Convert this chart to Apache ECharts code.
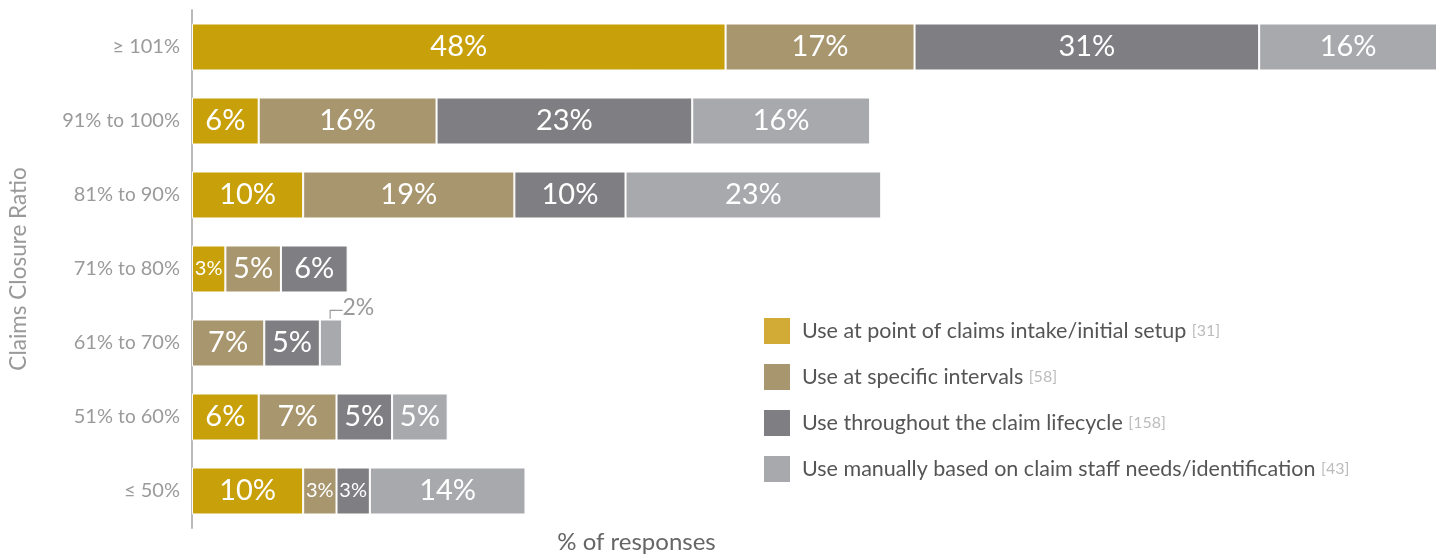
<!DOCTYPE html>
<html>
<head>
<meta charset="utf-8">
<title>Claims Closure Ratio</title>
<script src="https://cdn.jsdelivr.net/npm/echarts@6/dist/echarts.min.js"></script>
<style>
  html, body { margin: 0; padding: 0; background: #fff; }
  #chart { width: 1444px; height: 556px; }
</style>
</head>
<body>
<div id="chart"></div>
<script>
// 类目（上到下）
const categories = ["≥ 101%", "91% to 100%", "81% to 90%", "71% to 80%", "61% to 70%", "51% to 60%", "≤ 50%"];

// 各系列百分比
const intake = [48, 6, 10, 3, null, 6, 10];
const intervals = [17, 16, 19, 5, 6.5, 7, 3];
const lifecycle = [31, 23, 10, 6, 5, 5, 3];
const manual = [16, 16, 23, null, 2, 5, 14];

const seriesNames = [
  "Use at point of claims intake/initial setup",
  "Use at specific intervals",
  "Use throughout the claim lifecycle",
  "Use manually based on claim staff needs/identification",
];
const counts = [31, 58, 158, 43];

const barColors = ["#C8A009", "#A8966E", "#7F7F83", "#A8A9AD"];
const legendColors = ["#D2AA36", "#A8966E", "#7F7F83", "#A8A9AD"];

const FONT = "Lato, 'Open Sans', sans-serif";

// 每个柱子的数据项（小值用小字号，极小值标注在外侧）
function buildData(values) {
  return values.map((v) => {
    if (v == null) return null;
    if (v < 3) {
      return {
        value: v,
        label: {
          position: "top",
          offset: [19, 5],
          color: "#9a9a9a",
          formatter: "{l|┌─}{t|" + Math.round(v) + "%}",
          rich: {
            l: { fontFamily: "DejaVu Sans", fontSize: 14, color: "#999", padding: [7, 0, 0, 0] },
            t: { fontFamily: FONT, fontSize: 23, color: "#9a9a9a" },
          },
        },
      };
    }
    return {
      value: v,
      label: { fontSize: v <= 3 ? 20 : 29 },
    };
  });
}

const allValues = [intake, intervals, lifecycle, manual];

const options = {
  animation: false,
  textStyle: { fontFamily: FONT },
  grid: {
    top: 10,
    bottom: 28,
    left: 192,
    right: 7,
    outerBoundsMode: "none",
  },
  legend: {
    orient: "vertical",
    left: 762,
    top: 316,
    padding: 0,
    itemWidth: 28,
    itemHeight: 28,
    itemGap: 16,
    icon: "rect",
    data: seriesNames.map((n, i) => ({ name: n, itemStyle: { color: legendColors[i] } })),
    formatter: (name) => {
      const i = seriesNames.indexOf(name);
      return "{n|" + name + " }{c|[" + counts[i] + "]}";
    },
    textStyle: {
      padding: [0, 0, 0, 6],
      rich: {
        n: { fontFamily: FONT, fontSize: 21.5, color: "#555", lineHeight: 28 },
        c: { fontFamily: FONT, fontSize: 16, color: "#bcbcbc", lineHeight: 28 },
      },
    },
  },
  xAxis: {
    type: "value",
    min: 0,
    max: 112,
    axisLine: { show: false },
    axisTick: { show: false },
    axisLabel: { show: false },
    splitLine: { show: false },
    name: "% of responses",
    nameLocation: "middle",
    nameGap: 2,
    nameTextStyle: {
      fontFamily: FONT,
      fontSize: 24,
      color: "#666",
      padding: [0, 356, 0, 0],
    },
  },
  yAxis: {
    type: "category",
    inverse: true,
    data: categories,
    axisLine: { show: true, lineStyle: { color: "#bbb", width: 2 } },
    axisTick: { show: false },
    axisLabel: {
      margin: 12,
      formatter: (val) => {
        const parts = val.split(" to ");
        if (parts.length === 2) return "{p|" + parts[0] + " }{t|to}{p| " + parts[1] + "}";
        return "{p|" + val + "}";
      },
      rich: {
        p: { fontFamily: FONT, fontSize: 20, color: "#9a9a9a" },
        t: { fontFamily: FONT, fontSize: 19, color: "#9a9a9a" },
      },
    },
    name: "Claims Closure Ratio",
    nameLocation: "middle",
    nameGap: 162,
    nameTextStyle: { fontFamily: FONT, fontSize: 22.5, color: "#999" },
  },
  series: seriesNames.map((name, i) => ({
    name: name,
    type: "bar",
    stack: "total",
    barWidth: "63.5%",
    itemStyle: {
      color: barColors[i],
      borderColor: "#fff",
      borderWidth: 1,
    },
    label: {
      show: true,
      position: "inside",
      color: "#fff",
      fontFamily: FONT,
      fontSize: 29,
      formatter: (p) => Math.round(p.value) + "%",
    },
    data: buildData(allValues[i]),
  })),
};

const chart = echarts.init(document.getElementById("chart"));
chart.setOption(options);
window.addEventListener("resize", () => chart.resize());
</script>
</body>
</html>
